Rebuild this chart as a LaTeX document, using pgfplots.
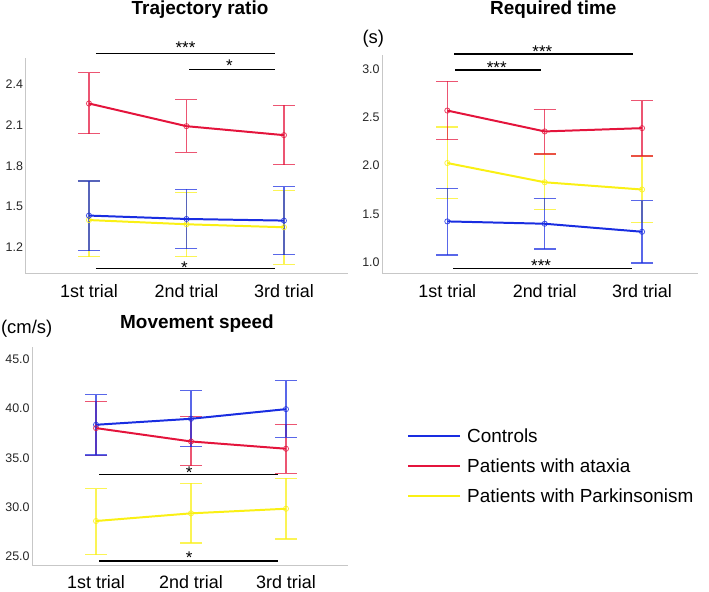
\documentclass[border=0pt]{standalone}
\usepackage{pgfplots}
\pgfplotsset{compat=1.18}
\usepackage{pgfplotstable}
\usepackage{fontspec}
\setmainfont{Liberation Sans}

\definecolor{cBlue}{RGB}{25,45,225}
\definecolor{cRed}{RGB}{228,20,60}
\definecolor{cYellow}{RGB}{250,240,20}

% columns: trial index, mean, lower and upper end of the interval
\pgfplotstableread{
x m lo hi
0 1.433 1.175 1.687
1 1.408 1.190 1.626
2 1.396 1.144 1.646
}\trBlue
\pgfplotstableread{
x m lo hi
0 2.258 2.035 2.486
1 2.091 1.900 2.287
2 2.025 1.807 2.246
}\trRed
\pgfplotstableread{
x m lo hi
0 1.400 1.131 1.687
1 1.369 1.131 1.600
2 1.347 1.075 1.616
}\trYellow

\pgfplotstableread{
x m lo hi
0 1.423 1.076 1.766
1 1.399 1.137 1.663
2 1.316 0.993 1.639
}\rtBlue
\pgfplotstableread{
x m lo hi
0 2.570 2.268 2.873
1 2.354 2.120 2.584
2 2.388 2.100 2.674
}\rtRed
\pgfplotstableread{
x m lo hi
0 2.027 1.656 2.399
1 1.828 1.543 2.120
2 1.753 1.409 2.100
}\rtYellow

\pgfplotstableread{
x m lo hi
0 38.36 35.28 41.44
1 38.97 36.12 41.81
2 39.95 37.07 42.83
}\msBlue
\pgfplotstableread{
x m lo hi
0 38.02 35.27 40.73
1 36.66 34.19 39.17
2 35.92 33.41 38.42
}\msRed
\pgfplotstableread{
x m lo hi
0 28.56 25.14 31.85
1 29.34 26.32 32.42
2 29.81 26.73 32.90
}\msYellow

\pgfplotsset{
  trialaxis/.style={
    scale only axis, clip=false,
    axis x line*=bottom, axis y line*=left,
    axis line style={draw=black!22, line width=1pt},
    major tick length=0pt,
    xtick={0,1,2}, xticklabels={1st trial,2nd trial,3rd trial},
    /pgf/number format/assume math mode=true,
    xticklabel style={font=\fontsize{18}{20}\selectfont, anchor=base, yshift=-24bp},
    yticklabel style={font=\fontsize{12.5}{14}\selectfont, text=black!85, inner xsep=2.5bp,
      /pgf/number format/.cd, fixed, fixed zerofill, precision=1},
  },
  ebar/.style={draw=none, mark=none, forget plot,
    error bars/.cd, y dir=both, y explicit,
    error bar style={line width=1.2pt, draw=#1, opacity=.72},
    error mark options={rotate=90, mark size=11bp, line width=1.2pt, draw=#1, opacity=.72}},
  mline/.style={draw=#1, line width=2pt, mark=o, mark size=2.6bp,
    mark options={line width=0.8pt, draw=#1, opacity=.8}},
  sig/.style={draw=black, line width=1.5pt, mark=none, forget plot},
}
\tikzset{stars/.style={font=\fontsize{17}{20}\selectfont, anchor=base, yshift=-10bp, inner sep=0pt}}

\newcommand{\errplot}[2]{\addplot[ebar=#1] table[x=x, y=m,
  y error plus expr=\thisrow{hi}-\thisrow{m},
  y error minus expr=\thisrow{m}-\thisrow{lo}] {#2};}

\begin{document}
\begin{tikzpicture}[x=1bp, y=1bp]
\path[use as bounding box] (0,0) rectangle (709,592);

% Trajectory ratio
\begin{axis}[trialaxis,
  at={(25.7bp,318bp)}, anchor=south west,
  width=322.6bp, height=216bp,
  xmin=-0.649, xmax=2.66, ymin=1.003, ymax=2.593,
  ytick={1.2,1.5,1.8,2.1,2.4}]
\errplot{cYellow}{\trYellow}
\errplot{cRed}{\trRed}
\errplot{cBlue}{\trBlue}
\addplot[mline=cYellow] table[x=x, y=m] {\trYellow};
\addplot[mline=cRed] table[x=x, y=m] {\trRed};
\addplot[mline=cBlue] table[x=x, y=m] {\trBlue};
\addplot[sig] coordinates {(0.07,2.625) (1.91,2.625)};
\addplot[sig] coordinates {(1.03,2.510) (1.91,2.510)};
\addplot[sig] coordinates {(0.07,1.043) (1.91,1.043)};
\node[stars] at (axis cs:0.99,2.699) {***};
\node[stars] at (axis cs:1.44,2.564) {*};
\node[stars] at (axis cs:0.98,1.082) {*};
\end{axis}

% Required time
\begin{axis}[trialaxis,
  at={(382.3bp,318bp)}, anchor=south west,
  width=315.7bp, height=219bp,
  xmin=-0.668, xmax=2.575, ymin=0.879, ymax=3.145,
  ytick={1.0,1.5,2.0,2.5,3.0}]
\errplot{cYellow}{\rtYellow}
\errplot{cRed}{\rtRed}
\errplot{cBlue}{\rtBlue}
\addplot[mline=cYellow] table[x=x, y=m] {\rtYellow};
\addplot[mline=cRed] table[x=x, y=m] {\rtRed};
\addplot[mline=cBlue] table[x=x, y=m] {\rtBlue};
\addplot[sig] coordinates {(0.07,3.155) (1.91,3.155)};
\addplot[sig] coordinates {(0.08,2.990) (0.96,2.990)};
\addplot[sig] coordinates {(0.06,0.935) (1.90,0.935)};
\node[stars] at (axis cs:0.976,3.223) {***};
\node[stars] at (axis cs:0.508,3.062) {***};
\node[stars] at (axis cs:0.963,1.007) {***};
\end{axis}

% Movement speed
\begin{axis}[trialaxis,
  at={(32.3bp,27bp)}, anchor=south west,
  width=315.7bp, height=218bp,
  xmin=-0.671, xmax=2.653, ymin=24.08, ymax=46.28,
  ytick={25,30,35,40,45},
  legend style={at={(axis description cs:1.187,0.628)}, anchor=north west,
    draw=none, fill=none, font=\fontsize{19}{22}\selectfont,
    inner sep=0pt, row sep=14.8bp, nodes={inner sep=0pt},
    /tikz/every odd column/.append style={column sep=6bp}},
  legend cell align=left,
  legend image code/.code={\draw[#1] (0bp,0bp) -- (52bp,0bp);}]
\errplot{cYellow}{\msYellow}
\errplot{cRed}{\msRed}
\errplot{cBlue}{\msBlue}
\addplot[mline=cBlue] table[x=x, y=m] {\msBlue};
\addlegendentry{Controls}
\addplot[mline=cRed] table[x=x, y=m] {\msRed};
\addlegendentry{Patients with ataxia}
\addplot[mline=cYellow] table[x=x, y=m] {\msYellow};
\addlegendentry{Patients with Parkinsonism}
\addplot[sig] coordinates {(0.035,33.31) (1.92,33.31)};
\addplot[sig] coordinates {(0.035,24.49) (1.92,24.49)};
\node[stars] at (axis cs:0.98,33.92) {*};
\node[stars] at (axis cs:0.98,25.27) {*};
\end{axis}

% panel titles and units
\begin{scope}[every node/.style={anchor=base, inner sep=0pt}]
\node[font=\bfseries\fontsize{19}{22}\selectfont] at (200,577) {Trajectory ratio};
\node[font=\bfseries\fontsize{19}{22}\selectfont] at (553.3,577) {Required time};
\node[font=\bfseries\fontsize{19}{22}\selectfont] at (197,263.7) {Movement speed};
\node[font=\fontsize{18.5}{20}\selectfont] at (373.3,548.7) {(s)};
\node[font=\fontsize{18.5}{20}\selectfont] at (26.7,258.7) {(cm/s)};
\end{scope}
\end{tikzpicture}
\end{document}
